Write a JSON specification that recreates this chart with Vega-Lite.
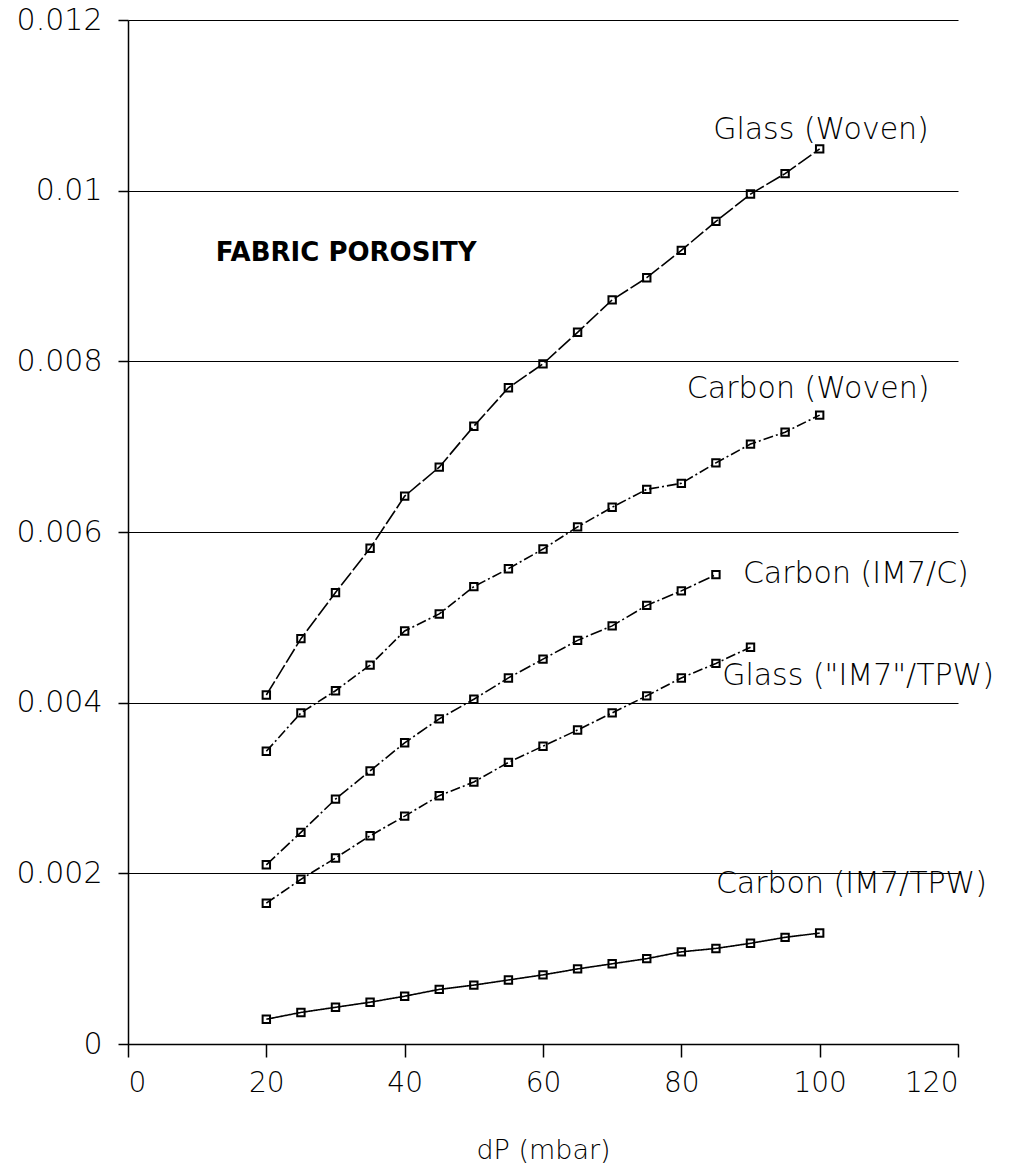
{
  "$schema": "https://vega.github.io/schema/vega-lite/v6.json",
  "autosize": {"type": "none"},
  "width": 830,
  "height": 1024,
  "padding": {"left": 128, "top": 20, "right": 60, "bottom": 127},
  "background": "white",
  "config": {
    "view": {"stroke": null},
    "font": "DejaVu Sans",
    "axis": {"domainColor": "black", "domainWidth": 1.5, "tickColor": "black", "tickWidth": 1.5, "labelColor": "black", "titleColor": "black", "labelFont": "DejaVu Sans", "titleFont": "DejaVu Sans", "labelFontWeight": 300, "titleFontWeight": 300}
  },
  "datasets": {
    "series": [
      {"series": "Glass (Woven)", "dP": 20, "porosity": 0.00409},
      {"series": "Glass (Woven)", "dP": 25, "porosity": 0.00475},
      {"series": "Glass (Woven)", "dP": 30, "porosity": 0.00529},
      {"series": "Glass (Woven)", "dP": 35, "porosity": 0.00581},
      {"series": "Glass (Woven)", "dP": 40, "porosity": 0.00642},
      {"series": "Glass (Woven)", "dP": 45, "porosity": 0.00676},
      {"series": "Glass (Woven)", "dP": 50, "porosity": 0.00724},
      {"series": "Glass (Woven)", "dP": 55, "porosity": 0.00769},
      {"series": "Glass (Woven)", "dP": 60, "porosity": 0.00797},
      {"series": "Glass (Woven)", "dP": 65, "porosity": 0.00834},
      {"series": "Glass (Woven)", "dP": 70, "porosity": 0.00872},
      {"series": "Glass (Woven)", "dP": 75, "porosity": 0.00898},
      {"series": "Glass (Woven)", "dP": 80, "porosity": 0.0093},
      {"series": "Glass (Woven)", "dP": 85, "porosity": 0.00964},
      {"series": "Glass (Woven)", "dP": 90, "porosity": 0.00996},
      {"series": "Glass (Woven)", "dP": 95, "porosity": 0.0102},
      {"series": "Glass (Woven)", "dP": 100, "porosity": 0.01049},
      {"series": "Carbon (Woven)", "dP": 20, "porosity": 0.00343},
      {"series": "Carbon (Woven)", "dP": 25, "porosity": 0.00388},
      {"series": "Carbon (Woven)", "dP": 30, "porosity": 0.00414},
      {"series": "Carbon (Woven)", "dP": 35, "porosity": 0.00444},
      {"series": "Carbon (Woven)", "dP": 40, "porosity": 0.00484},
      {"series": "Carbon (Woven)", "dP": 45, "porosity": 0.00504},
      {"series": "Carbon (Woven)", "dP": 50, "porosity": 0.00536},
      {"series": "Carbon (Woven)", "dP": 55, "porosity": 0.00557},
      {"series": "Carbon (Woven)", "dP": 60, "porosity": 0.0058},
      {"series": "Carbon (Woven)", "dP": 65, "porosity": 0.00606},
      {"series": "Carbon (Woven)", "dP": 70, "porosity": 0.00629},
      {"series": "Carbon (Woven)", "dP": 75, "porosity": 0.0065},
      {"series": "Carbon (Woven)", "dP": 80, "porosity": 0.00657},
      {"series": "Carbon (Woven)", "dP": 85, "porosity": 0.00681},
      {"series": "Carbon (Woven)", "dP": 90, "porosity": 0.00703},
      {"series": "Carbon (Woven)", "dP": 95, "porosity": 0.00717},
      {"series": "Carbon (Woven)", "dP": 100, "porosity": 0.00737},
      {"series": "Carbon (IM7/C)", "dP": 20, "porosity": 0.0021},
      {"series": "Carbon (IM7/C)", "dP": 25, "porosity": 0.00248},
      {"series": "Carbon (IM7/C)", "dP": 30, "porosity": 0.00287},
      {"series": "Carbon (IM7/C)", "dP": 35, "porosity": 0.0032},
      {"series": "Carbon (IM7/C)", "dP": 40, "porosity": 0.00353},
      {"series": "Carbon (IM7/C)", "dP": 45, "porosity": 0.00381},
      {"series": "Carbon (IM7/C)", "dP": 50, "porosity": 0.00404},
      {"series": "Carbon (IM7/C)", "dP": 55, "porosity": 0.00429},
      {"series": "Carbon (IM7/C)", "dP": 60, "porosity": 0.00451},
      {"series": "Carbon (IM7/C)", "dP": 65, "porosity": 0.00473},
      {"series": "Carbon (IM7/C)", "dP": 70, "porosity": 0.0049},
      {"series": "Carbon (IM7/C)", "dP": 75, "porosity": 0.00514},
      {"series": "Carbon (IM7/C)", "dP": 80, "porosity": 0.00531},
      {"series": "Carbon (IM7/C)", "dP": 85, "porosity": 0.0055},
      {"series": "Glass (\"IM7\"/TPW)", "dP": 20, "porosity": 0.00165},
      {"series": "Glass (\"IM7\"/TPW)", "dP": 25, "porosity": 0.00193},
      {"series": "Glass (\"IM7\"/TPW)", "dP": 30, "porosity": 0.00218},
      {"series": "Glass (\"IM7\"/TPW)", "dP": 35, "porosity": 0.00244},
      {"series": "Glass (\"IM7\"/TPW)", "dP": 40, "porosity": 0.00267},
      {"series": "Glass (\"IM7\"/TPW)", "dP": 45, "porosity": 0.00291},
      {"series": "Glass (\"IM7\"/TPW)", "dP": 50, "porosity": 0.00307},
      {"series": "Glass (\"IM7\"/TPW)", "dP": 55, "porosity": 0.0033},
      {"series": "Glass (\"IM7\"/TPW)", "dP": 60, "porosity": 0.00349},
      {"series": "Glass (\"IM7\"/TPW)", "dP": 65, "porosity": 0.00368},
      {"series": "Glass (\"IM7\"/TPW)", "dP": 70, "porosity": 0.00388},
      {"series": "Glass (\"IM7\"/TPW)", "dP": 75, "porosity": 0.00408},
      {"series": "Glass (\"IM7\"/TPW)", "dP": 80, "porosity": 0.00429},
      {"series": "Glass (\"IM7\"/TPW)", "dP": 85, "porosity": 0.00446},
      {"series": "Glass (\"IM7\"/TPW)", "dP": 90, "porosity": 0.00465},
      {"series": "Carbon (IM7/TPW)", "dP": 20, "porosity": 0.00029},
      {"series": "Carbon (IM7/TPW)", "dP": 25, "porosity": 0.00037},
      {"series": "Carbon (IM7/TPW)", "dP": 30, "porosity": 0.00043},
      {"series": "Carbon (IM7/TPW)", "dP": 35, "porosity": 0.00049},
      {"series": "Carbon (IM7/TPW)", "dP": 40, "porosity": 0.00056},
      {"series": "Carbon (IM7/TPW)", "dP": 45, "porosity": 0.00064},
      {"series": "Carbon (IM7/TPW)", "dP": 50, "porosity": 0.00069},
      {"series": "Carbon (IM7/TPW)", "dP": 55, "porosity": 0.00075},
      {"series": "Carbon (IM7/TPW)", "dP": 60, "porosity": 0.00081},
      {"series": "Carbon (IM7/TPW)", "dP": 65, "porosity": 0.00088},
      {"series": "Carbon (IM7/TPW)", "dP": 70, "porosity": 0.00094},
      {"series": "Carbon (IM7/TPW)", "dP": 75, "porosity": 0.001},
      {"series": "Carbon (IM7/TPW)", "dP": 80, "porosity": 0.00108},
      {"series": "Carbon (IM7/TPW)", "dP": 85, "porosity": 0.00112},
      {"series": "Carbon (IM7/TPW)", "dP": 90, "porosity": 0.00118},
      {"series": "Carbon (IM7/TPW)", "dP": 95, "porosity": 0.00125},
      {"series": "Carbon (IM7/TPW)", "dP": 100, "porosity": 0.0013}
    ],
    "labels": [
      {"label": "Glass (Woven)", "dP": 84.6, "porosity": 0.01071},
      {"label": "Carbon (Woven)", "dP": 80.8, "porosity": 0.00768},
      {"label": "Carbon (IM7/C)", "dP": 88.9, "porosity": 0.00551},
      {"label": "Glass (\"IM7\"/TPW)", "dP": 85.9, "porosity": 0.00431},
      {"label": "Carbon (IM7/TPW)", "dP": 85.0, "porosity": 0.001875}
    ],
    "heading": [
      {"label": "FABRIC POROSITY", "dP": 12.7, "porosity": 0.00927}
    ]
  },
  "layer": [
    {
      "data": {"name": "series"},
      "mark": {"type": "line", "color": "black", "strokeWidth": 1.6},
      "encoding": {
        "x": {"field": "dP", "type": "quantitative", "scale": {"domain": [0, 120], "nice": false},
          "axis": {"values": [0, 20, 40, 60, 80, 100, 120], "title": "dP (mbar)", "grid": false, "tickSize": 13, "labelFontSize": 28, "labelPadding": 12, "titleFontSize": 27, "titlePadding": 40}},
        "y": {"field": "porosity", "type": "quantitative", "scale": {"domain": [0, 0.012], "nice": false},
          "axis": {"values": [0, 0.002, 0.004, 0.006, 0.008, 0.01, 0.012], "labelExpr": "'' + datum.value", "title": null, "grid": true, "gridColor": "black", "gridWidth": 1.2, "gridOpacity": 1, "tickSize": 10, "labelFontSize": 30, "labelPadding": 16}},
        "strokeDash": {"field": "series", "type": "nominal", "legend": null,
          "scale": {"domain": ["Glass (Woven)", "Carbon (Woven)", "Carbon (IM7/C)", "Glass (\"IM7\"/TPW)", "Carbon (IM7/TPW)"],
                    "range": [[16, 3], [10, 3, 2, 3], [12, 3, 2, 3], [10, 3, 2, 3], [1, 0]]}}
      }
    },
    {
      "data": {"name": "series"},
      "mark": {"type": "point", "shape": "square", "filled": false, "color": "black", "strokeWidth": 2, "size": 55, "opacity": 1},
      "encoding": {
        "x": {"field": "dP", "type": "quantitative"},
        "y": {"field": "porosity", "type": "quantitative"}
      }
    },
    {
      "data": {"name": "labels"},
      "mark": {"type": "text", "align": "left", "baseline": "middle", "fontSize": 30, "font": "DejaVu Sans", "fontWeight": 300, "color": "black"},
      "encoding": {
        "x": {"field": "dP", "type": "quantitative"},
        "y": {"field": "porosity", "type": "quantitative"},
        "text": {"field": "label"}
      }
    },
    {
      "data": {"name": "heading"},
      "mark": {"type": "text", "align": "left", "baseline": "middle", "fontSize": 26, "font": "DejaVu Sans", "fontWeight": "bold", "color": "black"},
      "encoding": {
        "x": {"field": "dP", "type": "quantitative"},
        "y": {"field": "porosity", "type": "quantitative"},
        "text": {"field": "label"}
      }
    }
  ]
}
